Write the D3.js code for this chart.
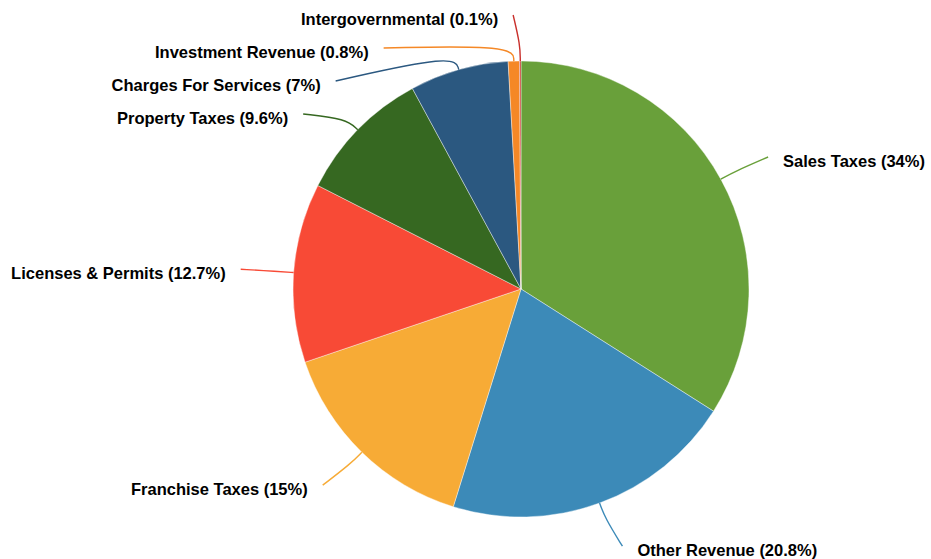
<!DOCTYPE html>
<html>
<head>
<meta charset="utf-8">
<script src="https://cdn.jsdelivr.net/npm/d3@7/dist/d3.min.js"></script>
<style>
  html, body { margin: 0; padding: 0; background: #fff; }
  svg { display: block; }
  .lbl { font-family: "Liberation Sans", Arial, Helvetica, sans-serif; font-weight: bold; font-size: 16.5px; fill: #000; }
</style>
</head>
<body>
<svg id="chart" width="931" height="559"></svg>
<script>
// Revenue sources, share of total (%)
const categories = [
  "Sales Taxes", "Other Revenue", "Franchise Taxes", "Licenses & Permits",
  "Property Taxes", "Charges For Services", "Investment Revenue", "Intergovernmental"
];
const shares = [34, 20.8, 15, 12.7, 9.6, 7, 0.8, 0.1];
const colors = ["#69a03a", "#3c8ab8", "#f7ab36", "#f84a36", "#366821", "#2b5880", "#f58826", "#c9302c"];

const W = 931, H = 559;
const cx = 521, cy = 289;
const R = 228;            // pie radius
const labelR = 274;       // radius where label anchors sit
const bendR = R + 16;     // leader line bend radius
const minGap = 33;        // vertical spacing between stacked labels

const data = categories.map((c, i) => ({ name: c, value: shares[i], color: colors[i] }));

const svg = d3.select("#chart");
const g = svg.append("g").attr("transform", `translate(${cx},${cy})`);

const pie = d3.pie().sort(null).value(d => d.value);
const arc = d3.arc().innerRadius(0).outerRadius(R);
const arcs = pie(data);

g.selectAll("path.slice")
  .data(arcs)
  .join("path")
  .attr("class", "slice")
  .attr("d", arc)
  .attr("fill", d => d.data.color)
  .attr("stroke", "#fff")
  .attr("stroke-width", 0.4);

// polar helper: angle measured clockwise from 12 o'clock
const polar = (r, a) => [r * Math.sin(a), -r * Math.cos(a)];

// initial label anchors
const labels = arcs.map(d => {
  const mid = (d.startAngle + d.endAngle) / 2;
  const [x, y] = polar(labelR, mid);
  return { d, mid, x, y, side: Math.sin(mid) >= 0 ? 1 : -1 };
});

// push overlapping labels down on each side, keeping them on the label circle
[1, -1].forEach(side => {
  const group = labels.filter(l => l.side === side).sort((a, b) => a.y - b.y);
  for (let i = 1; i < group.length; i++) {
    const prev = group[i - 1], cur = group[i];
    if (cur.y < prev.y + minGap) {
      cur.y = prev.y + minGap;
      const dx = labelR * labelR > cur.y * cur.y
        ? Math.sqrt(labelR * labelR - cur.y * cur.y)
        : Math.sqrt(cur.y * cur.y - labelR * labelR);
      cur.x = side * dx;
    }
  }
});

const line = d3.line().curve(d3.curveBasis);

labels.forEach(l => {
  const p0 = polar(R, l.mid);
  const p1 = polar(bendR, l.mid);
  const p2 = [l.x + l.side * 7, l.y];
  l.end = p2;
  g.append("path")
    .attr("d", line([p0, p1, p2]))
    .attr("fill", "none")
    .attr("stroke", l.d.data.color)
    .attr("stroke-width", 1.4);
});

g.selectAll("text.lbl")
  .data(labels)
  .join("text")
  .attr("class", "lbl")
  .attr("x", l => l.end[0] + l.side * 15)
  .attr("y", l => l.end[1] + 9.5)
  .attr("text-anchor", l => l.side > 0 ? "start" : "end")
  .text(l => `${l.d.data.name} (${l.d.data.value}%)`);
</script>
</body>
</html>
